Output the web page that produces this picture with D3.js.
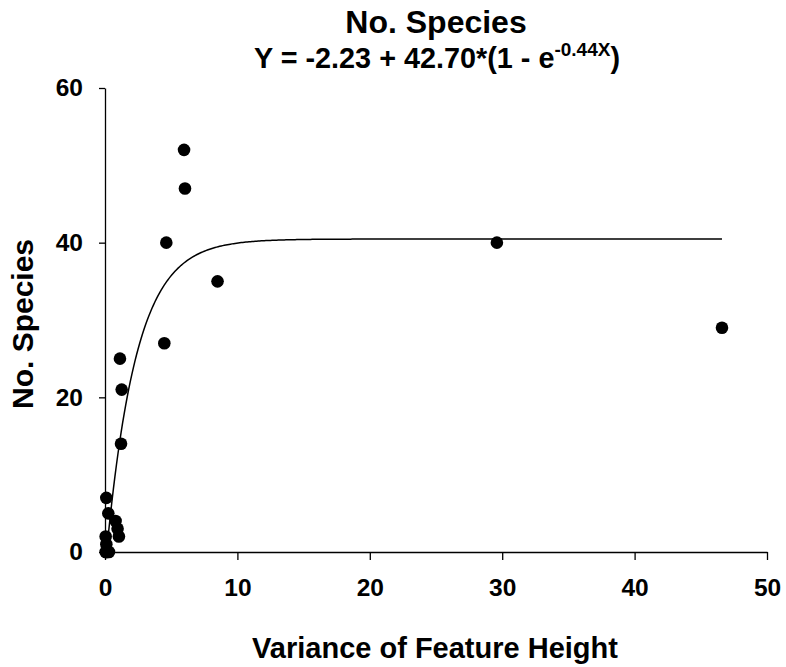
<!DOCTYPE html>
<html>
<head>
<meta charset="utf-8">
<script src="https://cdn.jsdelivr.net/npm/d3@7"></script>
<style>
  html, body { margin: 0; padding: 0; background: #fff; }
  svg { display: block; }
  text { font-family: "Liberation Sans", Arial, Helvetica, sans-serif; font-weight: bold; fill: #000; }
</style>
</head>
<body>
<svg id="chart" width="786" height="667"></svg>
<script>
// ---- data ----
const varianceX = [0.05, 0.15, 0.3, 0.1, 0.1, 0.05, 0.1, 0.25, 0.8, 0.95, 1.05, 1.13, 1.26, 1.21, 4.48, 4.63, 5.97, 6.04, 8.5, 29.6, 46.6];
const speciesY  = [0,    0,    0,   0,   1,   2,    7,   5,    4,   3,    2,    25,   21,   14,   27,   40,   52,   47,   35,  40,   29];
const xTicks = [0, 10, 20, 30, 40, 50];
const yTicks = [0, 20, 40, 60];
const fitA = -2.23, fitB = 42.70, fitK = 0.44;
const titleText = "No. Species";
const xTitle = "Variance of Feature Height";
const yTitle = "No. Species";

const svg = d3.select("#chart");
const x = d3.scaleLinear().domain([0, 50]).range([105, 767]);
const y = d3.scaleLinear().domain([0, 60]).range([552, 88]);

// axes
const xAxis = svg.append("g").attr("transform", `translate(0,${y(0)})`)
  .call(d3.axisBottom(x).tickValues(xTicks).tickSize(8).tickPadding(19).tickSizeOuter(0));
const yAxis = svg.append("g").attr("transform", `translate(${x(0)},0)`)
  .call(d3.axisLeft(y).tickValues(yTicks).tickSize(6).tickPadding(16).tickSizeOuter(0));
[xAxis, yAxis].forEach(g => {
  g.attr("font-family", null);
  g.select(".domain").attr("stroke", "#000").attr("stroke-width", 1.3);
  g.selectAll(".tick line").attr("stroke", "#000").attr("stroke-width", 1.3);
  g.selectAll(".tick text").attr("font-size", 24.5).attr("fill", "#000");
});

// fitted curve
const xMin = d3.min(varianceX), xMax = d3.max(varianceX);
const curveXs = d3.range(0, 401).map(i => xMin + (xMax - xMin) * i / 400);
const curve = curveXs.map(v => [v, fitA + fitB * (1 - Math.exp(-fitK * v))]).filter(d => d[1] >= 0);
svg.append("path")
  .datum(curve)
  .attr("fill", "none")
  .attr("stroke", "#000")
  .attr("stroke-width", 1.5)
  .attr("d", d3.line().x(d => x(d[0])).y(d => y(d[1])));

// points
svg.append("g").selectAll("circle")
  .data(varianceX.map((v, i) => [v, speciesY[i]]))
  .join("circle")
  .attr("cx", d => x(d[0]))
  .attr("cy", d => y(d[1]))
  .attr("r", 6.3)
  .attr("fill", "#000");

// titles
svg.append("text").attr("x", 436).attr("y", 33).attr("text-anchor", "middle")
  .attr("font-size", 32).text(titleText);
const eq = svg.append("text").attr("x", 437).attr("y", 68).attr("text-anchor", "middle").attr("font-size", 28.8);
eq.append("tspan").text("Y = -2.23 + 42.70*(1 - e");
eq.append("tspan").attr("font-size", 19).attr("dy", -12).text("-0.44X");
eq.append("tspan").attr("dy", 12).text(")");

svg.append("text").attr("x", 435).attr("y", 658).attr("text-anchor", "middle")
  .attr("font-size", 29).text(xTitle);
svg.append("text").attr("transform", `translate(33,324) rotate(-90)`).attr("text-anchor", "middle")
  .attr("font-size", 30).text(yTitle);
</script>
</body>
</html>
